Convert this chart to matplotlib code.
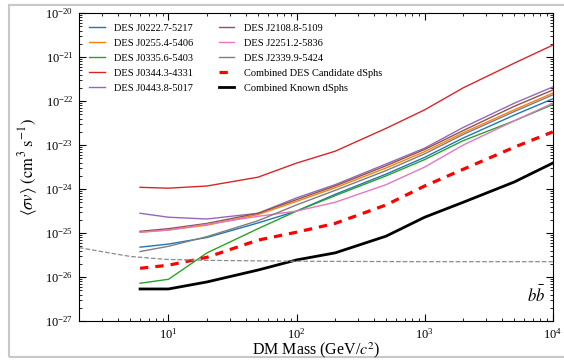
import matplotlib
matplotlib.use('Agg')
import matplotlib.pyplot as plt
from matplotlib.patches import Rectangle

plt.rcParams['font.family'] = ['Liberation Serif', 'DejaVu Serif']
plt.rcParams['mathtext.fontset'] = 'stix'

# masses (GeV) where the limits are sampled
mass = [6, 10, 20, 50, 100, 200, 500, 1000, 2000, 5000, 10000]

# log10 of <sigma v> limits
j0222 = [-25.32, -25.25, -25.10, -24.77, -24.50, -24.12, -23.66, -23.28, -22.84, -22.32, -21.95]
j0255 = [-24.98, -24.93, -24.82, -24.58, -24.28, -23.97, -23.52, -23.15, -22.72, -22.20, -21.82]
j0335 = [-26.14, -26.05, -25.45, -24.90, -24.50, -24.15, -23.70, -23.33, -22.90, -22.45, -22.08]
j0344 = [-23.96, -23.98, -23.93, -23.73, -23.41, -23.14, -22.62, -22.20, -21.70, -21.14, -20.73]
j0443 = [-24.55, -24.64, -24.68, -24.55, -24.20, -23.90, -23.43, -23.07, -22.60, -22.05, -21.68]
j2108 = [-24.96, -24.90, -24.78, -24.55, -24.24, -23.93, -23.47, -23.10, -22.67, -22.12, -21.75]
j2251 = [-24.98, -24.93, -24.80, -24.62, -24.50, -24.30, -23.90, -23.50, -23.00, -22.45, -22.05]
j2339 = [-25.42, -25.30, -25.08, -24.72, -24.36, -24.03, -23.58, -23.20, -22.76, -22.24, -21.86]
comb_cand = [-25.80, -25.73, -25.55, -25.16, -24.98, -24.78, -24.36, -23.93, -23.55, -23.05, -22.70]
comb_known = [-26.27, -26.27, -26.11, -25.84, -25.61, -25.45, -25.07, -24.64, -24.30, -23.84, -23.41]

# thermal relic cross section
relic_mass = [2, 3, 5, 8, 10, 20, 100, 1000, 10000]
relic_sv = [-25.33, -25.42, -25.53, -25.58, -25.60, -25.62, -25.64, -25.65, -25.65]

dsph_labels = ['DES J0222.7-5217', 'DES J0255.4-5406', 'DES J0335.6-5403',
               'DES J0344.3-4331', 'DES J0443.8-5017', 'DES J2108.8-5109',
               'DES J2251.2-5836', 'DES J2339.9-5424']
dsph_vals = [j0222, j0255, j0335, j0344, j0443, j2108, j2251, j2339]
dsph_colors = ['#1f77b4', '#ff7f0e', '#2ca02c', '#d62728', '#9467bd',
               '#8c564b', '#e377c2', '#7f7f7f']


def tolin(vals):
    return [10 ** v for v in vals]


fig = plt.figure(figsize=(5.64, 3.62), dpi=100)
ax = fig.add_axes([0.140, 0.113, 0.840, 0.851])

for lab, vals, col in zip(dsph_labels, dsph_vals, dsph_colors):
    ax.plot(mass, tolin(vals), color=col, lw=1.0, label=lab)

ax.plot(mass, tolin(comb_cand), color='red', lw=2.3, dashes=(2.6, 2.2),
        label='Combined DES Candidate dSphs')
ax.plot(mass, tolin(comb_known), color='black', lw=2.0,
        label='Combined Known dSphs')
ax.plot(relic_mass, tolin(relic_sv), color='0.55', lw=0.9, ls='--')

ax.set_xscale('log')
ax.set_yscale('log')
ax.set_xlim(2, 1e4)
ax.set_ylim(1e-27, 1e-20)

ax.tick_params(which='both', direction='in', top=True, right=True, labelsize=9)
ax.tick_params(which='major', length=5, pad=4)
ax.tick_params(which='minor', length=2.5)

ax.set_xlabel(r'DM Mass (GeV/$c^2$)', fontsize=11.5, labelpad=-1)
ax.set_ylabel(r'$\langle \sigma v \rangle\ (\mathrm{cm}^3\ \mathrm{s}^{-1})$', fontsize=12)

ax.text(0.985, 0.05, r'$b\bar{b}$', transform=ax.transAxes, ha='right',
        va='bottom', fontsize=12)

ax.legend(loc='upper left', ncol=2, frameon=False, fontsize=7.5,
          handlelength=1.5, handletextpad=0.9, labelspacing=0.55,
          columnspacing=2.4, borderaxespad=0.6)

# light frame around the figure, as in the screenshot
fig.add_artist(Rectangle((9 / 564, 5 / 362), 1.0, 352 / 362,
                         transform=fig.transFigure, fill=False,
                         edgecolor='#c8c8c8', lw=1.5, zorder=-1))

plt.savefig('out.png', dpi=100)
